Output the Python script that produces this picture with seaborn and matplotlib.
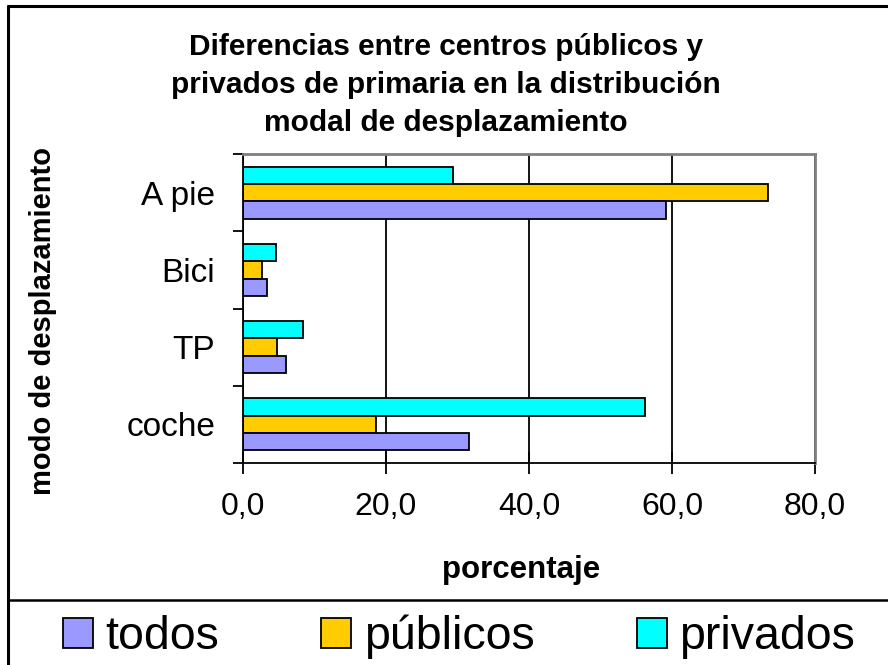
import matplotlib
matplotlib.use("Agg")
import matplotlib.pyplot as plt
import matplotlib.patches as mpatches
import matplotlib.ticker as mticker
import seaborn as sns
import pandas as pd

modos = ["A pie", "Bici", "TP", "coche"]
todos = [59.1, 3.4, 6.0, 31.6]
publicos = [73.4, 2.6, 4.8, 18.6]
privados = [29.4, 4.6, 8.4, 56.2]
series = ["todos", "públicos", "privados"]
xticks = [0, 20, 40, 60, 80]

COLORS = {"todos": "#9999FF", "públicos": "#FFCC00", "privados": "#00FFFF"}

sns.set_theme(style="white")
plt.rcParams["font.family"] = ["Liberation Sans", "DejaVu Sans"]
plt.rcParams["text.color"] = "black"
plt.rcParams["xtick.color"] = "black"
plt.rcParams["ytick.color"] = "black"

df = pd.DataFrame({
    "modo": modos * 3,
    "valor": todos + publicos + privados,
    "grupo": ["todos"] * 4 + ["públicos"] * 4 + ["privados"] * 4,
})

fig = plt.figure(figsize=(8.88, 6.65), dpi=100)
ax = fig.add_axes([243 / 888, 1 - 463 / 665, (815 - 243) / 888, (463 - 154) / 665])

sns.barplot(
    data=df, y="modo", x="valor", hue="grupo", orient="h",
    order=modos, hue_order=["privados", "públicos", "todos"],
    palette=COLORS, saturation=1, edgecolor="black", linewidth=1.3, width=0.67,
    legend=False, ax=ax,
)

ax.set_xlim(0, 80)
ax.set_ylim(3.5, -0.5)
ax.set_xticks(xticks)
ax.xaxis.set_major_formatter(mticker.FuncFormatter(lambda v, p: f"{v:.1f}".replace(".", ",")))
ax.tick_params(axis="x", direction="inout", length=16, width=1.3, color="black",
               labelsize=23, labelcolor="black", pad=13, bottom=True)
ax.set_yticks([-0.5, 0.5, 1.5, 2.5, 3.5])
ax.set_yticklabels([])
ax.set_yticks(range(len(modos)), minor=True)
ax.set_yticklabels(modos, minor=True)
ax.tick_params(axis="y", which="major", direction="out", length=7, width=1.3,
               color="black", left=True)
ax.tick_params(axis="y", which="minor", length=0, labelsize=24, labelcolor="black", pad=20)
ax.grid(axis="x", color="black", linewidth=1.3)
ax.grid(axis="y", visible=False)
ax.set_axisbelow(True)
ax.set_xlabel("")
ax.set_ylabel("")
for side in ["left", "bottom"]:
    ax.spines[side].set_color("black")
    ax.spines[side].set_linewidth(1.3)
for side in ["top", "right"]:
    ax.spines[side].set_color("#808080")
    ax.spines[side].set_linewidth(2)

title = ["Diferencias entre centros públicos y",
         "privados de primaria en la distribución",
         "modal de desplazamiento"]
for i, line in enumerate(title):
    fig.text(446 / 888, 1 - (47 + 38 * i) / 665, line, ha="center", va="center",
             fontsize=21.5, fontweight="bold")

fig.text(43 / 888, 1 - 321 / 665, "modo de desplazamiento", rotation=90,
         ha="center", va="center", fontsize=21, fontweight="bold")
fig.text(521 / 888, 1 - 570 / 665, "porcentaje", ha="center", va="center",
         fontsize=22.5, fontweight="bold")

# outer frame and legend separator
fig.add_artist(plt.Line2D([8 / 888, 8 / 888], [0, 1 - 6 / 665], color="black", lw=2.2,
                          transform=fig.transFigure))
fig.add_artist(plt.Line2D([8 / 888, 1], [1 - 6 / 665, 1 - 6 / 665], color="black", lw=2.2,
                          transform=fig.transFigure))
fig.add_artist(plt.Line2D([8 / 888, 1], [1 - 600 / 665, 1 - 600 / 665], color="black", lw=1.8,
                          transform=fig.transFigure))

handles = [mpatches.Patch(facecolor=COLORS[s], edgecolor="black", linewidth=1.3, label=s)
           for s in series]
fig.legend(handles=handles, loc="center left", bbox_to_anchor=(63 / 888, 1 - 637 / 665),
           ncol=3, frameon=False, fontsize=33.5, handlelength=0.64, handleheight=0.64,
           handletextpad=0.27, columnspacing=2.2, borderpad=0, borderaxespad=0)

fig.savefig("out.png", dpi=100)
